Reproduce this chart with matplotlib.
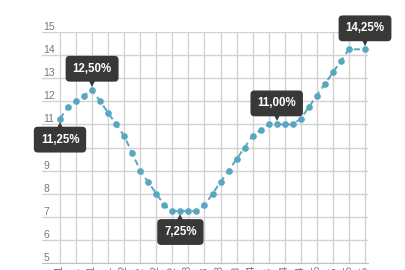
import numpy as np
import matplotlib as mpl
mpl.use('Agg')
from matplotlib import pyplot as plt
from matplotlib.transforms import offset_copy, ScaledTranslation

# Selic rate per Copom meeting, 2011 - 2015 (one slot has no value)
meetings = ['jan/11', 'mar/11', 'abr/11', 'jun/11', 'jul/11', 'ago/11', 'out/11', 'nov/11',
            'jan/12', 'mar/12', 'abr/12', 'mai/12', 'jul/12', 'ago/12', 'out/12', 'nov/12',
            'jan/13', 'mar/13', 'abr/13', 'mai/13', 'jul/13', 'ago/13', 'out/13', 'nov/13',
            'jan/14', 'fev/14', 'abr/14', 'mai/14', 'jul/14', 'set/14', 'out/14', 'dez/14',
            'jan/15', 'mar/15', 'abr/15', 'jun/15', 'jul/15', 'set/15', 'out/15']
rate = [11.25, 11.75, 12.0, 12.25, 12.5, 12.0, 11.5, 11.0,
        10.5, 9.75, 9.0, 8.5, 8.0, 7.5, 7.25, 7.25,
        7.25, 7.25, 7.5, 8.0, 8.5, 9.0, 9.5, 10.0,
        10.5, 10.75, 11.0, 11.0, 11.0, 11.0, 11.25, 11.75,
        12.25, 12.75, 13.25, 13.75, 14.25, None, 14.25]
yticks = list(range(5, 16))

# tooltips: (meeting index, side)
tips = [(0, 'below'), (4, 'above'), (15, 'below'), (27, 'above'), (38, 'above')]

lineColor = '#5aa6c1'
gridColor = '#d2d2d2'
tipColor = '#383838'

fig = plt.figure(figsize=(4.06, 2.70), dpi=100)
ax = fig.add_axes([42/406., 7/270., 326/406., 231/270.])

idx = np.arange(len(meetings))
vals = np.array([np.nan if v is None else v for v in rate])
ok = ~np.isnan(vals)

ax.plot(idx[ok], vals[ok], color=lineColor, lw=1.4, linestyle=(0, (3.2, 2.2)),
        marker='o', markersize=4.8, markeredgewidth=0, zorder=3, clip_on=False)

ax.set_xlim(-2.243, 38.374)
ax.set_ylim(5, 15)
ax.set_xticks(idx[::2])
ax.set_xticklabels(meetings[::2], rotation=90, fontsize=7, color='#777777')
ax.set_yticks(yticks)
ax.set_yticklabels([str(t) for t in yticks], fontsize=7.5, color='#777777',
                   family='Liberation Sans')
ax.tick_params(length=0)
ax.tick_params(axis='x', pad=2)
ax.tick_params(axis='y', pad=-1)
for lab in ax.get_yticklabels():
    lab.set_horizontalalignment('left')
    lab.set_transform(lab.get_transform() + ScaledTranslation(0, 6/100., fig.dpi_scale_trans))

ax.grid(True, color=gridColor, lw=1)
ax.set_axisbelow(True)
for s in ['top', 'right', 'left']:
    ax.spines[s].set_visible(False)
ax.spines['bottom'].set_color('#c0c0c0')

# dark tooltips with a small pointer
for i, side in tips:
    sgn = 1 if side == 'above' else -1
    txt = ('%.2f' % vals[i]).replace('.', ',') + '%'
    ax.annotate(txt, (i, vals[i]), xytext=(0, sgn*21), textcoords='offset pixels',
                ha='center', va='center', color='white', fontsize=8.3, fontweight='bold',
                family='Liberation Sans', zorder=6, annotation_clip=False,
                bbox=dict(boxstyle='round,pad=0.6,rounding_size=0.35', fc=tipColor, ec='none'))
    tr = offset_copy(ax.transData, fig=fig, x=0, y=sgn*7, units='dots')
    ax.plot([i], [vals[i]], marker='v' if sgn > 0 else '^', color=tipColor,
            markersize=6, markeredgewidth=0, transform=tr, zorder=5, clip_on=False)

plt.savefig('out.png', dpi=100)
